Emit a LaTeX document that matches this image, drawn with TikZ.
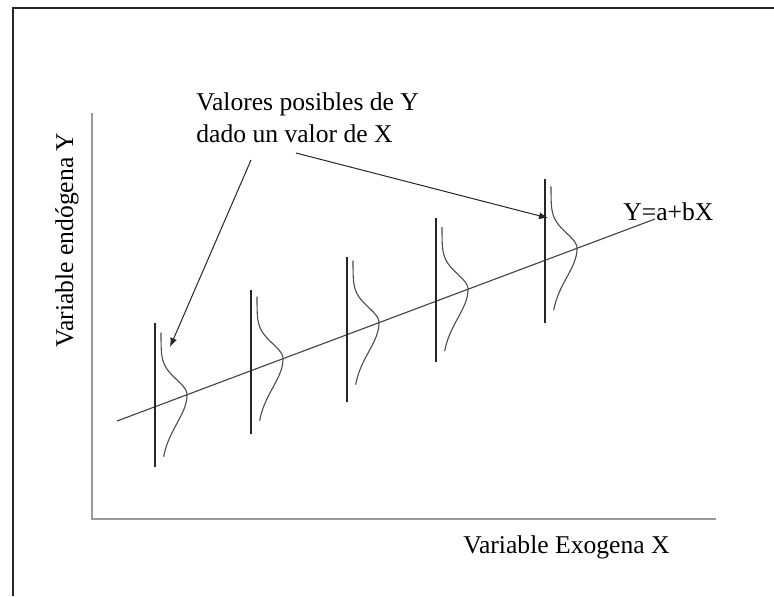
\documentclass[tikz,border=0pt]{standalone}
\usepackage{fontspec}
\setmainfont{Liberation Serif}
\usetikzlibrary{arrows.meta}

\begin{document}
\begin{tikzpicture}[
    x=0.5pt, y=-0.5pt,
    % Stili
    txt/.style={inner sep=0pt, font=\fontsize{12.8}{16}\selectfont},
    frame/.style={line width=1.2pt, black!85},
    axis/.style={line width=0.8pt, black!40},
    regline/.style={line width=0.55pt, black!75},
    vline/.style={line width=0.55pt, black!85},
    density/.style={line width=0.55pt, black!70},
    arrow/.style={-{Latex[length=4.5pt, width=3.5pt]}, line width=0.5pt, black!85},
    % campana: coda alta stretta, coda bassa larga
    bell/.pic={\draw [density] plot [domain=-62:0, samples=30, smooth] ({-26+26*exp(-(\x/15)^2/2)}, \x)
        -- plot [domain=0:62, samples=30, smooth] ({-26+26*exp(-(\x/29)^2/2)}, \x);}
]

    \useasboundingbox (0,0) rectangle (774,596);

    % ==================== CORNICE E ASSI ====================
    \draw [frame] (13,596) -- (13,8) -- (774,8);
    \draw [axis] (92,113) -- (92,519) -- (716,519);

    \node [txt, rotate=90, anchor=base] (ylab) at (73,240) {Variable endógena Y};
    \node [txt, anchor=base west] (xlab) at (463,553) {Variable Exogena X};

    % ==================== RETTA DI REGRESSIONE ====================
    \draw [regline] (117,421) -- (655,219);
    \node [txt, anchor=base west] (eq) at (623,220) {Y=a+bX};

    % ==================== DISTRIBUZIONI CONDIZIONATE ====================
    \draw [vline] (155,323) -- (155,467);
    \draw [vline] (251,290) -- (251,434);
    \draw [vline] (347,257) -- (347,402);
    \draw [vline] (436,218) -- (436,362);
    \draw [vline] (545,179) -- (545,323);

    \pic at (187,394.7) {bell};
    \pic at (283,358.7) {bell};
    \pic at (379,322.6) {bell};
    \pic at (468,289.2) {bell};
    \pic at (577,248.3) {bell};

    % ==================== NOTA ====================
    \node [txt, align=left, anchor=north west] (note) at (196,92) {Valores posibles de Y\\dado un valor de X};

    \coordinate (tail1) at (251,160);
    \coordinate (tip1) at (170,347);
    \coordinate (tail2) at (296,153);
    \coordinate (tip2) at (548,218);

    \draw [arrow] (tail1) -- (tip1);
    \draw [arrow] (tail2) -- (tip2);

\end{tikzpicture}
\end{document}
